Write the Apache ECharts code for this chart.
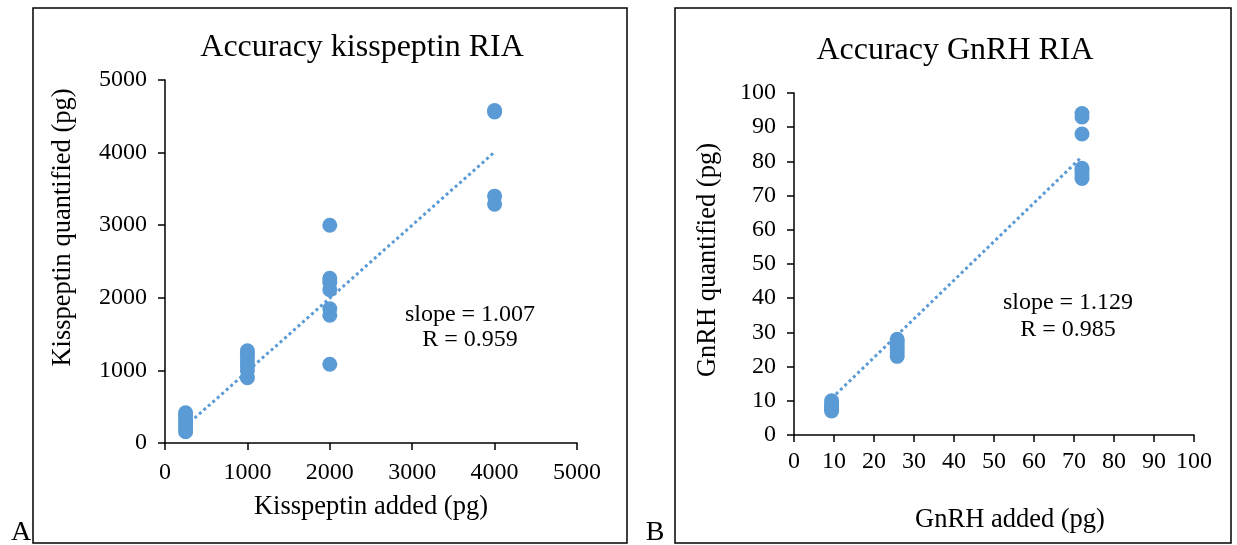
<!DOCTYPE html>
<html>
<head>
<meta charset="utf-8">
<script src="https://cdn.jsdelivr.net/npm/echarts@6/dist/echarts.min.js"></script>
<style>
html,body{margin:0;padding:0;background:#fff;}
#chart{width:1237px;height:545px;}
</style>
</head>
<body>
<div id="chart"></div>
<script>
// ---- Data ----
const kissAdded = [250,250,250,250,250,250,250,
                   1000,1000,1000,1000,1000,1000,1000,
                   2000,2000,2000,2000,2000,2000,2000,
                   4000,4000,4000,4000];
const kissQuant = [155,200,250,290,330,380,417,
                   900,1000,1060,1120,1180,1230,1270,
                   3000,2270,2210,2110,1850,1760,1085,
                   4580,4560,3400,3290];
const kissTrendX = [250, 4000];
const kissTrendY = [232, 4008];

const gnrhAdded = [9.4,9.4,9.4,9.4,9.4,9.4,
                   25.8,25.8,25.8,25.8,25.8,25.8,
                   72,72,72,72,72,72,72];
const gnrhQuant = [7,7.5,8,8.5,9,10,
                   23,24,25,26,27,28,
                   94,93,88,78,77,76,75];
const gnrhTrendX = [9.4, 72];
const gnrhTrendY = [10.7, 81.4];

const kissTicks = [0,1000,2000,3000,4000,5000];
const gnrhTicks = [0,10,20,30,40,50,60,70,80,90,100];

const titles = ['Accuracy kisspeptin RIA', 'Accuracy GnRH RIA'];
const xNames = ['Kisspeptin added (pg)', 'GnRH added (pg)'];
const yNames = ['Kisspeptin quantified (pg)', 'GnRH quantified (pg)'];
const notes = [['slope = 1.007', 'R = 0.959'], ['slope = 1.129', 'R = 0.985']];
const panelLetters = ['A', 'B'];

// ---- Chart ----
const FONT = '"Liberation Serif", "Times New Roman", serif';
const BLUE = '#5B9BD5';
const pair = (xs, ys) => xs.map((x, i) => [x, ys[i]]);

function axis(ticks, name, gap, margin, namePad) {
  return {
    type: 'value', min: ticks[0], max: ticks[ticks.length - 1], interval: ticks[1] - ticks[0],
    name: name, nameLocation: 'middle', nameGap: gap,
    nameTextStyle: {fontFamily: FONT, fontSize: 26.5, color: '#000', padding: [0, 0, 0, namePad]},
    axisLine: {show: true, onZero: false, lineStyle: {color: '#000', width: 1.5}},
    axisTick: {show: true, inside: false, length: 7, lineStyle: {color: '#000', width: 1.5}},
    axisLabel: {fontFamily: FONT, fontSize: 24, color: '#000', margin: margin,
                formatter: v => String(v)},
    splitLine: {show: false}
  };
}

const chart = echarts.init(document.getElementById('chart'), null, {renderer: 'canvas'});
chart.setOption({
  animation: false,
  backgroundColor: '#fff',
  title: [
    {text: titles[0], left: 357, top: 27, textAlign: 'center',
     textStyle: {fontFamily: FONT, fontSize: 32, fontWeight: 'normal', color: '#000'}},
    {text: titles[1], left: 950, top: 30, textAlign: 'center',
     textStyle: {fontFamily: FONT, fontSize: 32, fontWeight: 'normal', color: '#000'}}
  ],
  grid: [
    {left: 165, top: 80, width: 412, height: 363},
    {left: 794, top: 93, width: 400, height: 342}
  ],
  xAxis: [
    Object.assign(axis(kissTicks, xNames[0], 51, 18, 0), {gridIndex: 0}),
    Object.assign(axis(gnrhTicks, xNames[1], 72, 15, 32), {gridIndex: 1})
  ],
  yAxis: [
    Object.assign(axis(kissTicks, yNames[0], 88, 18, 68), {gridIndex: 0}),
    Object.assign(axis(gnrhTicks, yNames[1], 72, 18, 8), {gridIndex: 1})
  ],
  series: [
    {type: 'line', xAxisIndex: 0, yAxisIndex: 0, data: pair(kissTrendX, kissTrendY),
     symbol: 'none', lineStyle: {color: BLUE, width: 3, type: [3, 3]}, z: 1},
    {type: 'scatter', xAxisIndex: 0, yAxisIndex: 0, data: pair(kissAdded, kissQuant),
     symbolSize: 15, itemStyle: {color: BLUE, opacity: 1}, z: 2},
    {type: 'line', xAxisIndex: 1, yAxisIndex: 1, data: pair(gnrhTrendX, gnrhTrendY),
     symbol: 'none', lineStyle: {color: BLUE, width: 3, type: [3, 3]}, z: 1},
    {type: 'scatter', xAxisIndex: 1, yAxisIndex: 1, data: pair(gnrhAdded, gnrhQuant),
     symbolSize: 15, itemStyle: {color: BLUE, opacity: 1}, z: 2}
  ],
  graphic: [
    {type: 'rect', shape: {x: 33, y: 8, width: 594, height: 535},
     style: {fill: 'none', stroke: '#000', lineWidth: 1.5}, silent: true},
    {type: 'rect', shape: {x: 675, y: 8, width: 556, height: 535},
     style: {fill: 'none', stroke: '#000', lineWidth: 1.5}, silent: true},
    {type: 'text', x: 470, y: 315, style: {text: notes[0][0], font: '24px ' + FONT, fill: '#000', align: 'center', verticalAlign: 'middle'}},
    {type: 'text', x: 470, y: 340, style: {text: notes[0][1], font: '24px ' + FONT, fill: '#000', align: 'center', verticalAlign: 'middle'}},
    {type: 'text', x: 1068, y: 303, style: {text: notes[1][0], font: '24px ' + FONT, fill: '#000', align: 'center', verticalAlign: 'middle'}},
    {type: 'text', x: 1068, y: 330, style: {text: notes[1][1], font: '24px ' + FONT, fill: '#000', align: 'center', verticalAlign: 'middle'}},
    {type: 'text', x: 21, y: 533, style: {text: panelLetters[0], font: '28px ' + FONT, fill: '#000', align: 'center', verticalAlign: 'middle'}},
    {type: 'text', x: 655, y: 533, style: {text: panelLetters[1], font: '28px ' + FONT, fill: '#000', align: 'center', verticalAlign: 'middle'}}
  ]
});
</script>
</body>
</html>
